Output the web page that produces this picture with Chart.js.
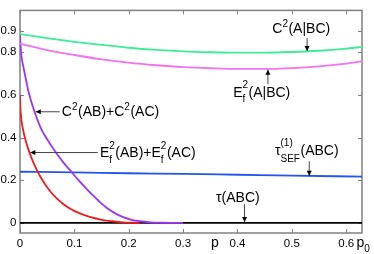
<!DOCTYPE html>
<html>
<head>
<meta charset="utf-8">
<script src="https://cdn.jsdelivr.net/npm/chart.js@4/dist/chart.umd.min.js"></script>
<style>
html,body{margin:0;padding:0;background:#fff;}
canvas{display:block;}
</style>
</head>
<body>
<canvas id="c" width="374" height="254"></canvas>
<script>
// ---- data ----
const xTickValues = [0, 0.1, 0.2, 0.3, 0.4, 0.5, 0.6];
const xTickLabels = ['0', '0.1', '0.2', '0.3', '0.4', '0.5', '0.6'];
const yTickValues = [0, 0.2, 0.4, 0.6, 0.8, 0.9];
const yTickLabels = ['0', '0.2', '0.4', '0.6', '0.8', '0.9'];

// C^2(A|BC)
const pGreen = [0, 0.05, 0.1, 0.15, 0.2, 0.25, 0.3, 0.35, 0.4, 0.45, 0.5, 0.55, 0.6, 0.629];
const vGreen = [0.885, 0.866, 0.849, 0.834, 0.821, 0.811, 0.804, 0.800, 0.798, 0.798, 0.801, 0.807, 0.817, 0.825];
// E_f^2(A|BC)
const pMagenta = [0, 0.05, 0.1, 0.15, 0.2, 0.25, 0.3, 0.35, 0.4, 0.45, 0.5, 0.55, 0.6, 0.629];
const vMagenta = [0.840, 0.810, 0.787, 0.767, 0.751, 0.739, 0.730, 0.725, 0.722, 0.722, 0.726, 0.734, 0.747, 0.757];
// C^2(AB)+C^2(AC)
const pPurple = [0, 0.001, 0.003, 0.0055, 0.0083, 0.0115, 0.0145, 0.02, 0.027, 0.033, 0.04, 0.05, 0.06, 0.07, 0.08, 0.095, 0.11, 0.125, 0.14, 0.147, 0.16, 0.175, 0.19, 0.205, 0.22, 0.24, 0.26, 0.28, 0.3];
const vPurple = [0.885, 0.83, 0.775, 0.74, 0.705, 0.665, 0.628, 0.575, 0.52, 0.477, 0.435, 0.392, 0.352, 0.316, 0.283, 0.238, 0.194, 0.153, 0.115, 0.098, 0.07, 0.045, 0.027, 0.015, 0.008, 0.003, 0.001, 0.0002, 0];
// E_f^2(AB)+E_f^2(AC)
const pRed = [0, 0.0005, 0.0015, 0.003, 0.005, 0.008, 0.012, 0.017, 0.023, 0.03, 0.038, 0.047, 0.057, 0.068, 0.08, 0.095, 0.11, 0.13, 0.15, 0.17, 0.19, 0.21, 0.22];
const vRed = [0.60, 0.55, 0.51, 0.475, 0.445, 0.41, 0.372, 0.333, 0.293, 0.253, 0.214, 0.178, 0.144, 0.114, 0.088, 0.063, 0.045, 0.027, 0.015, 0.008, 0.003, 0.001, 0];
// tau_SEF^(1)(ABC)
const pBlue = [0, 0.1, 0.2, 0.3, 0.4, 0.5, 0.629];
const vBlue = [0.240, 0.237, 0.233, 0.230, 0.226, 0.222, 0.217];
// tau(ABC)
const pBlack = [0, 0.629];
const vBlack = [0, 0];

// ---- styling ----
const FAMILY = '"Liberation Sans", Arial, Helvetica, sans-serif';
const MAIN = '14px ' + FAMILY;
const SCRIPT = '10px ' + FAMILY;

const pts = (xs, ys) => xs.map((x, i) => ({x: x, y: ys[i]}));
const ds = (xs, ys, color) => ({
  data: pts(xs, ys), borderColor: color, borderWidth: 1.8, showLine: true,
  pointRadius: 0, fill: false, cubicInterpolationMode: 'monotone'
});

// annotations: text anchored in data coords (left, baseline); arrow from tail to tip in data coords
const annotations = [
  {parts: [{t: 'C'}, {sup: '2'}, {t: '(A|BC)'}], tx: 0.464, ty: 0.888,
   arrow: [0.528, 0.866, 0.528, 0.806]},
  {parts: [{t: 'E'}, {sub: 'f', sup: '2'}, {t: '(A|BC)'}], tx: 0.392, ty: 0.591,
   arrow: [0.456, 0.650, 0.456, 0.718]},
  {parts: [{t: 'C'}, {sup: '2'}, {t: '(AB)+C'}, {sup: '2'}, {t: '(AC)'}], tx: 0.077, ty: 0.501,
   arrow: [0.073, 0.521, 0.029, 0.521]},
  {parts: [{t: 'E'}, {sub: 'f', sup: '2'}, {t: '(AB)+E'}, {sub: 'f', sup: '2'}, {t: '(AC)'}], tx: 0.147, ty: 0.307,
   arrow: [0.143, 0.330, 0.019, 0.330]},
  {parts: [{t: 'τ'}, {sub: 'SEF', sup: '(1)', subOff: 6.5, supOff: -9.5}, {t: '(ABC)'}], tx: 0.469, ty: 0.318,
   arrow: [0.532, 0.289, 0.532, 0.221]},
  {parts: [{t: 'τ(ABC)'}], tx: 0.3606, ty: 0.099,
   arrow: [0.413, 0.088, 0.413, 0.004]}
];

function drawRich(ctx, x, y, parts) {
  let cx = x;
  ctx.textBaseline = 'alphabetic';
  ctx.textAlign = 'left';
  for (const s of parts) {
    if (s.t !== undefined) {
      ctx.font = MAIN;
      ctx.fillText(s.t, cx, y);
      cx += ctx.measureText(s.t).width;
    } else {
      ctx.font = SCRIPT;
      let w = 0;
      if (s.sup) {
        const off = s.supOff !== undefined ? s.supOff : (s.sub ? -8.5 : -6.5);
        ctx.fillText(s.sup, cx, y + off);
        w = Math.max(w, ctx.measureText(s.sup).width);
      }
      if (s.sub) {
        const off = s.subOff !== undefined ? s.subOff : 5.5;
        ctx.fillText(s.sub, cx, y + off);
        w = Math.max(w, ctx.measureText(s.sub).width);
      }
      cx += w + 0.5;
    }
  }
}

function drawArrow(ctx, x1, y1, x2, y2) {
  ctx.strokeStyle = '#444';
  ctx.lineWidth = 1;
  ctx.beginPath();
  ctx.moveTo(x1, y1);
  ctx.lineTo(x2, y2);
  ctx.stroke();
  const ang = Math.atan2(y2 - y1, x2 - x1);
  const L = 5, W = 2.5;
  ctx.fillStyle = '#000';
  ctx.beginPath();
  ctx.moveTo(x2, y2);
  ctx.lineTo(x2 - L * Math.cos(ang) + W * Math.sin(ang), y2 - L * Math.sin(ang) - W * Math.cos(ang));
  ctx.lineTo(x2 - L * Math.cos(ang) - W * Math.sin(ang), y2 - L * Math.sin(ang) + W * Math.cos(ang));
  ctx.closePath();
  ctx.fill();
}

const framePlugin = {
  id: 'frame',
  beforeDatasetsDraw(chart) {
    const {ctx, chartArea: a, scales: {x, y}} = chart;
    ctx.save();
    ctx.strokeStyle = '#808080';
    ctx.lineWidth = 1.5;
    ctx.strokeRect(a.left, a.top, a.right - a.left, a.bottom - a.top);
    ctx.lineWidth = 1;
    ctx.beginPath();
    x.ticks.forEach(t => {
      const px = Math.round(x.getPixelForValue(t.value)) + 0.5;
      ctx.moveTo(px, a.bottom); ctx.lineTo(px, a.bottom - 4);
      ctx.moveTo(px, a.top); ctx.lineTo(px, a.top + 4);
    });
    y.ticks.forEach(t => {
      const py = Math.round(y.getPixelForValue(t.value)) + 0.5;
      ctx.moveTo(a.left, py); ctx.lineTo(a.left + 4, py);
      ctx.moveTo(a.right, py); ctx.lineTo(a.right - 4, py);
    });
    ctx.stroke();
    ctx.restore();
  },
  afterDraw(chart) {
    const {ctx, scales: {x, y}} = chart;
    ctx.save();
    ctx.fillStyle = '#000';
    for (const an of annotations) {
      const [ax1, ay1, ax2, ay2] = an.arrow;
      drawArrow(ctx, x.getPixelForValue(ax1), y.getPixelForValue(ay1), x.getPixelForValue(ax2), y.getPixelForValue(ay2));
      ctx.fillStyle = '#000';
      drawRich(ctx, x.getPixelForValue(an.tx), y.getPixelForValue(an.ty), an.parts);
    }
    // axis variable labels
    ctx.font = MAIN;
    ctx.textAlign = 'center';
    ctx.textBaseline = 'alphabetic';
    ctx.fillText('p', x.getPixelForValue(0.3585), 247);
    drawRich(ctx, 356.5, 247, [{t: 'p'}, {sub: '0', subOff: 4.5}]);
    ctx.restore();
  }
};

new Chart(document.getElementById('c'), {
  type: 'scatter',
  data: {
    datasets: [
      ds(pGreen, vGreen, '#3cec9a'),
      ds(pMagenta, vMagenta, '#f272f2'),
      ds(pPurple, vPurple, '#9a35f5'),
      ds(pRed, vRed, '#f21a1a'),
      ds(pBlue, vBlue, '#2454ef'),
      ds(pBlack, vBlack, '#000000')
    ]
  },
  options: {
    responsive: false,
    animation: false,
    devicePixelRatio: 1,
    layout: {padding: {top: 1, right: 12, left: 0, bottom: 0}},
    plugins: {legend: {display: false}, tooltip: {enabled: false}},
    scales: {
      x: {
        type: 'linear', position: 'bottom', min: 0, max: 0.629,
        grid: {display: false, drawTicks: false},
        border: {display: false},
        ticks: {
          font: {family: FAMILY, size: 11.5}, color: '#000', padding: 4,
          maxRotation: 0, autoSkip: false,
          callback: (v) => xTickLabels[xTickValues.indexOf(v)]
        },
        afterBuildTicks: (s) => { s.ticks = xTickValues.map(v => ({value: v})); },
        afterFit: (s) => { s.height = 21; }
      },
      y: {
        type: 'linear', position: 'left', min: -0.047, max: 0.996,
        grid: {display: false, drawTicks: false},
        border: {display: false},
        ticks: {
          font: {family: FAMILY, size: 11.5}, color: '#000', padding: 3.5,
          autoSkip: false,
          callback: (v) => yTickLabels[yTickValues.indexOf(v)]
        },
        afterBuildTicks: (s) => { s.ticks = yTickValues.map(v => ({value: v})); },
        afterFit: (s) => { s.width = 20; }
      }
    }
  },
  plugins: [framePlugin]
});
</script>
</body>
</html>
